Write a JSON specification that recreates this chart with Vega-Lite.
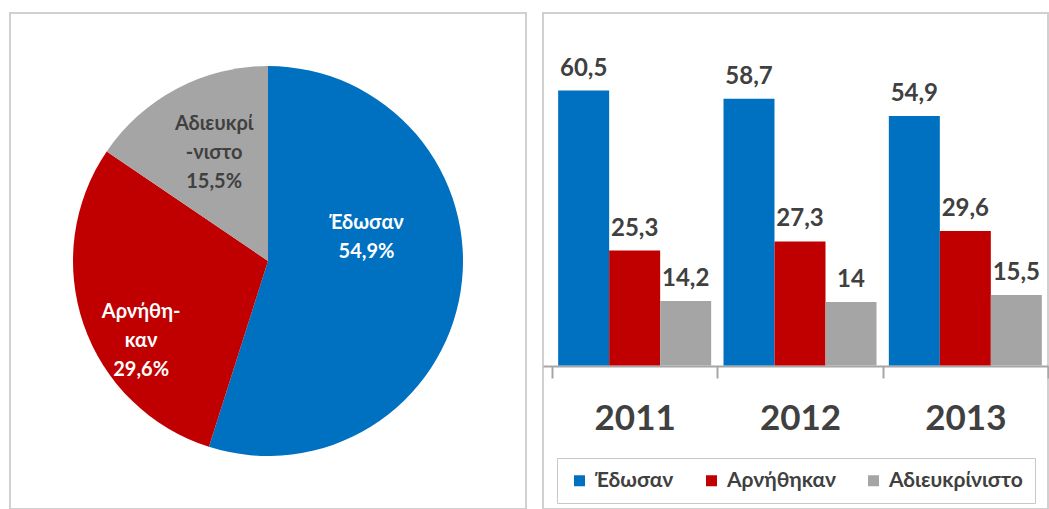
{
  "$schema": "https://vega.github.io/schema/vega-lite/v6.json",
  "padding": {"left": 9, "top": 12, "right": 0, "bottom": 0},
  "background": "white",
  "spacing": 15,
  "config": {
    "font": "Lato",
    "view": {"stroke": "#d0d0d0", "strokeWidth": 2},
    "locale": {"number": {"decimal": ",", "thousands": ".", "grouping": [3], "currency": ["", " €"]}}
  },
  "resolve": {"scale": {"color": "independent"}, "legend": {"color": "independent"}},
  "hconcat": [
    {
      "width": 516,
      "height": 496,
      "view": {"stroke": "#d0d0d0", "strokeWidth": 2, "fill": "white"},
      "data": {"values": [
        {"category": "Έδωσαν", "percent": 54.9, "order": 1, "label": "Έδωσαν\n54,9%"},
        {"category": "Αρνήθηκαν", "percent": 29.6, "order": 2, "label": "Αρνήθη-\nκαν\n29,6%"},
        {"category": "Αδιευκρίνιστο", "percent": 15.5, "order": 3, "label": "Αδιευκρί\n-νιστο\n15,5%"}
      ]},
      "encoding": {
        "theta": {"field": "percent", "type": "quantitative", "stack": true},
        "order": {"field": "order", "type": "quantitative"}
      },
      "layer": [
        {
          "mark": {"type": "arc", "outerRadius": 195},
          "encoding": {
            "color": {
              "field": "category",
              "type": "nominal",
              "scale": {"domain": ["Έδωσαν", "Αρνήθηκαν", "Αδιευκρίνιστο"], "range": ["#0070C0", "#C00000", "#A5A5A5"]},
              "legend": null
            }
          }
        },
        {
          "mark": {
            "type": "text",
            "radius": 130,
            "fontWeight": "bold",
            "fontSize": 20,
            "lineBreak": "\n",
            "lineHeight": 29,
            "align": "center",
            "baseline": "middle",
            "dx": {"expr": "datum.order === 1 ? -30 : datum.order === 2 ? -4 : 7"},
            "dy": {"expr": "datum.order === 1 ? -58 : datum.order === 2 ? 9 : -22"}
          },
          "encoding": {
            "text": {"field": "label", "type": "nominal"},
            "color": {"condition": {"test": "datum.category === 'Αδιευκρίνιστο'", "value": "#404040"}, "value": "#ffffff"}
          }
        }
      ]
    },
    {
      "width": 505,
      "height": 496,
      "data": {"values": [
        {"year": "2011", "category": "Έδωσαν", "value": 60.5},
        {"year": "2011", "category": "Αρνήθηκαν", "value": 25.3},
        {"year": "2011", "category": "Αδιευκρίνιστο", "value": 14.2},
        {"year": "2012", "category": "Έδωσαν", "value": 58.7},
        {"year": "2012", "category": "Αρνήθηκαν", "value": 27.3},
        {"year": "2012", "category": "Αδιευκρίνιστο", "value": 14},
        {"year": "2013", "category": "Έδωσαν", "value": 54.9},
        {"year": "2013", "category": "Αρνήθηκαν", "value": 29.6},
        {"year": "2013", "category": "Αδιευκρίνιστο", "value": 15.5}
      ]},
      "encoding": {
        "x": {
          "field": "year",
          "type": "nominal",
          "scale": {"paddingInner": 0, "paddingOuter": 0.0272, "align": 1},
          "axis": {
            "title": null,
            "labelAngle": 0,
            "offset": -143,
            "tickBand": "extent",
            "domainColor": "#a6a6a6",
            "domainWidth": 2,
            "tickColor": "#a6a6a6",
            "tickWidth": 2,
            "tickSize": 12,
            "labelFontSize": 35,
            "labelFontWeight": "bold",
            "labelColor": "#404040",
            "labelPadding": 40,
            "labelBaseline": "middle",
            "grid": false
          }
        },
        "xOffset": {
          "field": "category",
          "type": "nominal",
          "sort": ["Έδωσαν", "Αρνήθηκαν", "Αδιευκρίνιστο"],
          "scale": {"paddingInner": 0, "paddingOuter": 0.121}
        }
      },
      "layer": [
        {
          "mark": {"type": "bar"},
          "encoding": {
            "y": {
              "field": "value",
              "type": "quantitative",
              "scale": {"domain": [-31.57, 77.56], "nice": false, "zero": false},
              "axis": null
            },
            "y2": {"datum": 0},
            "color": {
              "field": "category",
              "type": "nominal",
              "scale": {"domain": ["Έδωσαν", "Αρνήθηκαν", "Αδιευκρίνιστο"], "range": ["#0070C0", "#C00000", "#A5A5A5"]},
              "legend": {
                "title": null,
                "orient": "none",
                "legendX": 14,
                "legendY": 445,
                "direction": "horizontal",
                "symbolType": "square",
                "symbolSize": 121,
                "symbolStrokeWidth": 0,
                "labelFontSize": 21,
                "labelFontWeight": "bold",
                "labelColor": "#404040",
                "labelOffset": 5,
                "columnPadding": 27,
                "strokeColor": "#c8c8c8",
                "padding": 12
              }
            }
          }
        },
        {
          "mark": {"type": "text", "fontWeight": "bold", "fontSize": 24, "color": "#404040", "baseline": "alphabetic", "dy": -15},
          "encoding": {
            "y": {"field": "value", "type": "quantitative"},
            "text": {"field": "value", "type": "quantitative", "format": ".1~f"}
          }
        }
      ]
    }
  ]
}
